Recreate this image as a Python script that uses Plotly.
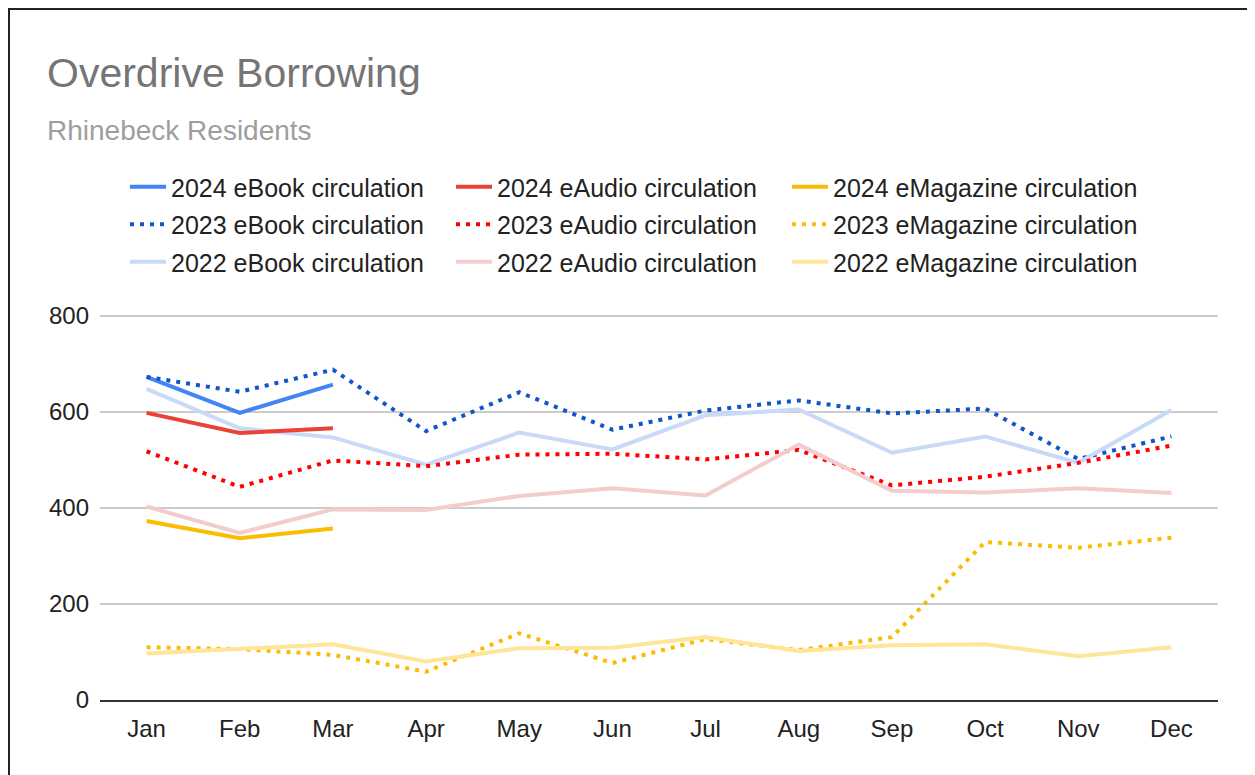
import plotly.graph_objects as go

months = ["Jan", "Feb", "Mar", "Apr", "May", "Jun", "Jul", "Aug", "Sep", "Oct", "Nov", "Dec"]

ebook_2024 = [673, 598, 657]
ebook_2023 = [673, 642, 688, 560, 641, 563, 603, 624, 597, 607, 502, 549]
ebook_2022 = [648, 566, 547, 490, 557, 522, 593, 605, 515, 549, 494, 604]

eaudio_2024 = [598, 556, 566]
eaudio_2023 = [518, 444, 499, 487, 511, 513, 501, 521, 447, 465, 494, 530]
eaudio_2022 = [403, 348, 397, 396, 425, 441, 426, 532, 436, 432, 441, 431]

emag_2024 = [373, 337, 357]
emag_2023 = [110, 106, 94, 59, 139, 77, 127, 104, 131, 329, 317, 338]
emag_2022 = [97, 106, 116, 80, 108, 109, 131, 102, 114, 116, 91, 110]

y_ticks = [0, 200, 400, 600, 800]

FONT = "Liberation Sans, Arial, sans-serif"
DOT = "4px,6px"

series = [
    # name, values, color, dash, legend
    ("2024 eBook circulation", ebook_2024, "#4285F4", "solid", "legend"),
    ("2023 eBook circulation", ebook_2023, "#1155CC", DOT, "legend"),
    ("2022 eBook circulation", ebook_2022, "#C9DAF8", "solid", "legend"),
    ("2024 eAudio circulation", eaudio_2024, "#EA4335", "solid", "legend2"),
    ("2023 eAudio circulation", eaudio_2023, "#FF0000", DOT, "legend2"),
    ("2022 eAudio circulation", eaudio_2022, "#F4CCCC", "solid", "legend2"),
    ("2024 eMagazine circulation", emag_2024, "#FBBC04", "solid", "legend3"),
    ("2023 eMagazine circulation", emag_2023, "#FBBC04", DOT, "legend3"),
    ("2022 eMagazine circulation", emag_2022, "#FFE599", "solid", "legend3"),
]

fig = go.Figure()
for i, (name, vals, color, dash, leg) in enumerate(series):
    fig.add_trace(go.Scatter(
        x=months[:len(vals)], y=vals, name=name, mode="lines",
        line=dict(color=color, width=4, dash=dash),
        legend=leg, legendgroup=f"g{i}",
    ))

# The page has an 8px body margin, so the figure is drawn 8px in from the corner.
OFF = 8
W, H = 1255 - OFF, 775 - OFF
ML = 100 - OFF
MT = 314 - OFF
MR = W - (1218 - OFF)
MB = H - (700 - OFF)
pw = W - ML - MR
ph = H - MT - MB

def px_x(px):
    return (px - OFF - ML) / pw

def px_y(py):
    return (H - MB - (py - OFF)) / ph

leg_common = dict(
    orientation="v", xref="container", yref="container",
    xanchor="left", yanchor="top", y=1 - 156 / H, tracegroupgap=2,
    font=dict(family=FONT, size=25, color="#222222"),
    bgcolor="rgba(0,0,0,0)", itemwidth=36,
)

fig.update_layout(
    width=W, height=H, autosize=False,
    margin=dict(l=ML, r=MR, t=MT, b=MB, autoexpand=False),
    paper_bgcolor="white", plot_bgcolor="white",
    font=dict(family=FONT, color="#222222"),
    legend=dict(x=117 / W, **leg_common),
    legend2=dict(x=443 / W, **leg_common),
    legend3=dict(x=779 / W, **leg_common),
    xaxis=dict(
        categoryorder="array", categoryarray=months,
        range=[-0.5, 11.5], showgrid=False, zeroline=False,
        showline=True, linecolor="#333333", linewidth=2,
        ticks="", tickfont=dict(family=FONT, size=24, color="#222222"),
        ticklabelstandoff=6,
    ),
    yaxis=dict(
        range=[0, 804], tickvals=y_ticks, showgrid=True,
        gridcolor="#CCCCCC", gridwidth=2, zeroline=False,
        ticks="", tickfont=dict(family=FONT, size=24, color="#222222"),
        ticklabelstandoff=10,
    ),
    annotations=[
        dict(text="Overdrive Borrowing", xref="paper", yref="paper",
             x=px_x(45), y=px_y(73), xanchor="left", yanchor="middle",
             showarrow=False, font=dict(family=FONT, size=41, color="#757575")),
        dict(text="Rhinebeck Residents", xref="paper", yref="paper",
             x=px_x(45), y=px_y(130), xanchor="left", yanchor="middle",
             showarrow=False, font=dict(family=FONT, size=28, color="#9E9E9E")),
    ],
    shapes=[
        dict(type="line", xref="paper", yref="paper",
             x0=px_x(9), x1=px_x(1270), y0=px_y(9), y1=px_y(9),
             line=dict(color="#222222", width=2)),
        dict(type="line", xref="paper", yref="paper",
             x0=px_x(9), x1=px_x(9), y0=px_y(8), y1=px_y(790),
             line=dict(color="#222222", width=2)),
    ],
)

fig.write_html("out.html", config={"displayModeBar": False})
